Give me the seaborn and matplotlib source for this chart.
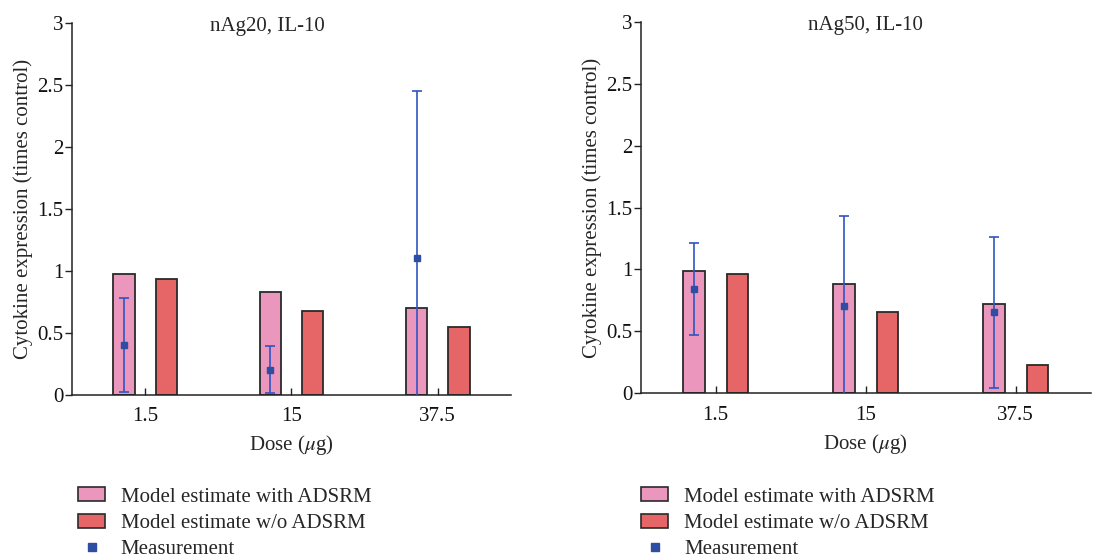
import numpy as np
import pandas as pd
import matplotlib
matplotlib.use("Agg")
import matplotlib.pyplot as plt
import seaborn as sns
from matplotlib.patches import Patch
from matplotlib.lines import Line2D

# data
doses = ["1.5", "15", "37.5"]
with_adsrm_20 = [0.977, 0.831, 0.705]
without_adsrm_20 = [0.939, 0.675, 0.546]
meas_20 = [0.404, 0.204, 1.103]
meas_err_20 = [0.38, 0.19, 1.35]

with_adsrm_50 = [0.987, 0.880, 0.718]
without_adsrm_50 = [0.963, 0.659, 0.229]
meas_50 = [0.842, 0.705, 0.654]
meas_err_50 = [0.37, 0.726, 0.61]

titles = ["nAg20, IL-10", "nAg50, IL-10"]
labels = ["Model estimate with ADSRM", "Model estimate w/o ADSRM", "Measurement"]

pink = "#EB96BC"
red = "#E66567"
blue = "#2E4EA3"
err_blue = "#2F55C0"

sns.set_theme(style="white")
plt.rcParams["font.family"] = ["Liberation Serif", "DejaVu Serif"]
plt.rcParams["mathtext.fontset"] = "stix"
fs = 15

fig = plt.figure(figsize=(11.06, 5.59), dpi=100)
ax1 = fig.add_axes([0.0651, 0.2934, 0.3969, 0.6655])
ax2 = fig.add_axes([0.5793, 0.2964, 0.4069, 0.6648])

panels = [
    (ax1, with_adsrm_20, without_adsrm_20, meas_20, meas_err_20, titles[0], 0.444, -0.002),
    (ax2, with_adsrm_50, without_adsrm_50, meas_50, meas_err_50, titles[1], 0.5, -0.007),
]

for ax, w, wo, m, me, title, tx, lx in panels:
    df = pd.DataFrame({
        "dose": doses * 2,
        "value": w + wo,
        "model": [labels[0]] * 3 + [labels[1]] * 3,
    })
    sns.barplot(data=df, x="dose", y="value", hue="model", order=doses,
                hue_order=labels[:2], palette=[pink, red], saturation=1,
                width=0.58, gap=0.5, edgecolor="#2a2a2a", linewidth=1.3,
                legend=False, ax=ax)
    # measurement points sit on the centre of the pink bars
    xs = [p.get_x() + p.get_width() / 2 for p in ax.containers[0].patches]
    ax.errorbar(xs, m, yerr=me, fmt="s", color=blue, ecolor=err_blue,
                markersize=5, elinewidth=1.2, capsize=3.5, capthick=1.2, zorder=5)

    ax.set_ylim(0, 3)
    ax.set_xlim(-0.5, 2.5)
    ax.set_yticks(np.arange(0, 3.01, 0.5))
    ax.set_yticklabels(["0", "0.5", "1", "1.5", "2", "2.5", "3"])
    ax.tick_params(axis="y", direction="out", length=5, width=1, color="#222",
                   labelsize=fs, pad=1, left=True)
    ax.tick_params(axis="x", direction="in", length=5, width=1, color="#222",
                   labelsize=fs, pad=9, bottom=True)
    for s in ["top", "right"]:
        ax.spines[s].set_visible(False)
    for s in ["left", "bottom"]:
        ax.spines[s].set_color("#222")
        ax.spines[s].set_linewidth(1.1)
    ax.set_ylabel("Cytokine expression (times control)", fontsize=fs, labelpad=3)
    ax.set_xlabel(r"Dose ($\mu$g)", fontsize=fs, labelpad=5)
    ax.text(tx, 0.99, title, transform=ax.transAxes, ha="center", va="center",
            fontsize=fs)
    for t in ax.get_xticklabels() + ax.get_yticklabels():
        t.set_color("#111")

    handles = [
        Patch(facecolor=pink, edgecolor="#2a2a2a", linewidth=1.2),
        Patch(facecolor=red, edgecolor="#2a2a2a", linewidth=1.2),
        Line2D([], [], marker="s", linestyle="none", color=blue, markersize=6),
    ]
    pos = ax.get_position()
    ax.legend(handles, labels, loc="upper left", frameon=False, fontsize=fs,
              bbox_to_anchor=(pos.x0 + lx, 0.143), bbox_transform=fig.transFigure,
              handlelength=1.3, handleheight=0.65, labelspacing=0.34,
              handletextpad=0.75, borderaxespad=0)

fig.savefig("out.png", dpi=100)
